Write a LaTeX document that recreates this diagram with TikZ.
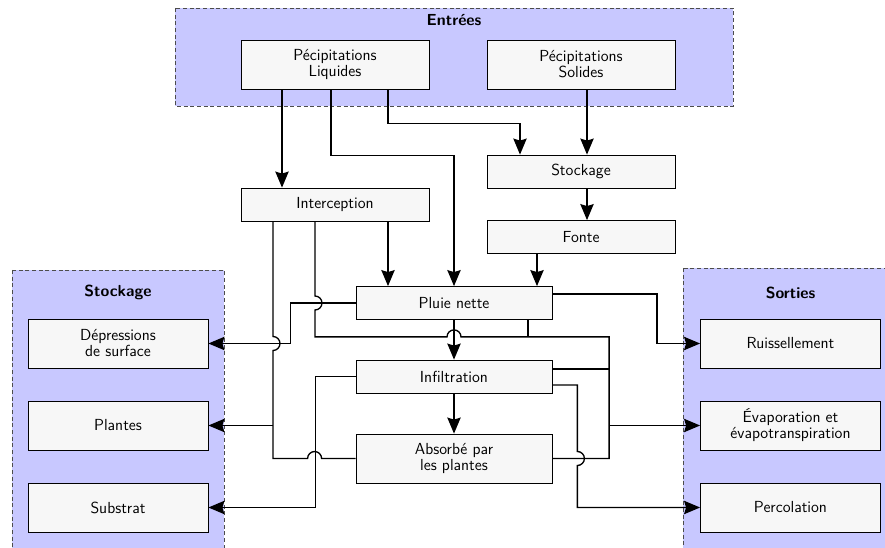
\documentclass[tikz,border=0pt]{standalone}
\usepackage{tikz}
\usetikzlibrary{arrows.meta, calc, shadows}
\renewcommand{\familydefault}{\sfdefault}
\definecolor{groupblue}{RGB}{200,200,255}
\definecolor{boxgray}{RGB}{247,247,247}

\begin{document}
\begin{tikzpicture}[x=0.75pt,y=-0.75pt,
    font=\fontsize{12}{12}\selectfont,
    block/.style={draw=black, line width=0.6pt, fill=boxgray, align=center,
        inner sep=0pt, minimum width=141pt, minimum height=24.75pt,
        drop shadow={shadow xshift=0.7pt, shadow yshift=-0.7pt, fill=black!60}},
    tall/.style={minimum height=36.75pt},
    wide/.style={minimum width=147pt},
    side/.style={minimum width=135pt, minimum height=36.75pt},
    group/.style={fill=groupblue, draw=black!70, densely dashed, line width=0.6pt},
    title/.style={font=\fontsize{12}{12}\selectfont\bfseries},
    flow/.style={line width=1pt},
    arr/.style={flow, -{Stealth[length=12pt,width=10pt,inset=1.5pt]}}]

    \clip (0,0) rectangle (885,548);

    \path[group] (175,8) rectangle (733,106);
    \path[group] (12,270) rectangle (224,560);
    \path[group] (683,268) rectangle (900,560);

    \node[title] (entrees) at (454,20) {Entrées};
    \node[title] (stocktitle) at (118,292) {Stockage};
    \node[title] (sorties) at (790.5,293) {Sorties};

    \node[block, tall] (liq) at (335,64.5) {Pécipitations\\Liquides};
    \node[block, tall] (sol) at (581,64.5) {Pécipitations\\Solides};
    \node[block] (stock) at (581,171.5) {Stockage};
    \node[block] (inter) at (335,204.5) {Interception};
    \node[block] (fonte) at (581,237) {Fonte};
    \node[block, wide] (pluie) at (454,303) {Pluie nette};
    \node[block, wide] (infil) at (454,376.5) {Infiltration};
    \node[block, wide, tall] (absorb) at (454,458.5) {Absorbé par\\les plantes};
    \node[block, side] (depr) at (118,343.5) {Dépressions\\de surface};
    \node[block, side] (plantes) at (118,425.5) {Plantes};
    \node[block, side] (substrat) at (118,507.5) {Substrat};
    \node[block, side] (ruis) at (790.5,343.5) {Ruissellement};
    \node[block, side] (evap) at (790.5,425.5) {Évaporation et\\évapotranspiration};
    \node[block, side] (perco) at (790.5,507.5) {Percolation};

    \coordinate (pl) at ($(inter.south)+(-62,0)$);
    \coordinate (ev) at ($(inter.south)+(-20,0)$);
    \coordinate (evc) at ($(ev |- pluie.south)+(0,17)$);
    \coordinate (evr) at ($(evap.west)+(-91,0)$);
    \coordinate (pn) at ($(pluie.south)+(74,0)$);
    \coordinate (ie1) at ($(infil.east)+(0,-7.5)$);
    \coordinate (ie2) at ($(infil.east)+(0,8.5)$);
    \coordinate (pc) at ($(absorb.east)+(25,0)$);

    \draw[arr] ($(liq.south)+(-53,0)$) -- ($(inter.north)+(-53,0)$);
    \draw[arr] ($(liq.south)+(-4,0)$) -- ++(0,66) -| (pluie.north);
    \draw[arr] ($(liq.south)+(53,0)$) -- ++(0,34) -| ($(stock.north)+(-61,0)$);
    \draw[arr] ($(sol.south)+(6,0)$) -- ($(stock.north)+(6,0)$);
    \draw[arr] ($(stock.south)+(6,0)$) -- ($(fonte.north)+(6,0)$);
    \draw[arr] ($(fonte.south)+(-44,0)$) -- ($(pluie.north)+(83,0)$);
    \draw[arr] ($(inter.south)+(53,0)$) -- ($(pluie.north)+(-66,0)$);
    \draw[arr] (pluie.south) -- (infil.north);
    \draw[arr] (infil.south) -- (absorb.north);

    \draw[arr] (pluie.west) -| ($(depr.east)+(82,0)$) -- (depr.east);
    \draw[flow] (pl) -- ($(pl |- depr.east)+(0,-7)$)
        arc[start angle=-90, end angle=90, radius=7] -- (pl |- absorb.west)
        -- ($(absorb.west)+(-48,0)$)
        arc[start angle=180, end angle=360, radius=7] -- (absorb.west);
    \draw[arr] (pl |- plantes.east) -- (plantes.east);
    \draw[arr] (infil.west) -| ($(substrat.east)+(107,0)$) -- (substrat.east);

    \draw[arr] ($(pluie.east)+(0,-9)$) -| ($(ruis.west)+(-43,0)$) -- (ruis.west);
    \draw[flow] (ev) -- ($(ev |- pluie.west)+(0,-7)$)
        arc[start angle=-90, end angle=90, radius=7] -- (evc)
        -- ($(evc -| pluie.south)+(-7,0)$)
        arc[start angle=180, end angle=360, radius=7] -- (evc -| evr)
        -- (evr |- absorb.east) -- (absorb.east);
    \draw[flow] (pn) -- (pn |- evc);
    \draw[flow] (ie1) -- (ie1 -| evr);
    \draw[arr] (evr |- evap.west) -- (evap.west);
    \draw[arr] (ie2) -| ($(pc)+(0,-7)$)
        arc[start angle=-90, end angle=90, radius=7] |- (perco.west);
\end{tikzpicture}
\end{document}
